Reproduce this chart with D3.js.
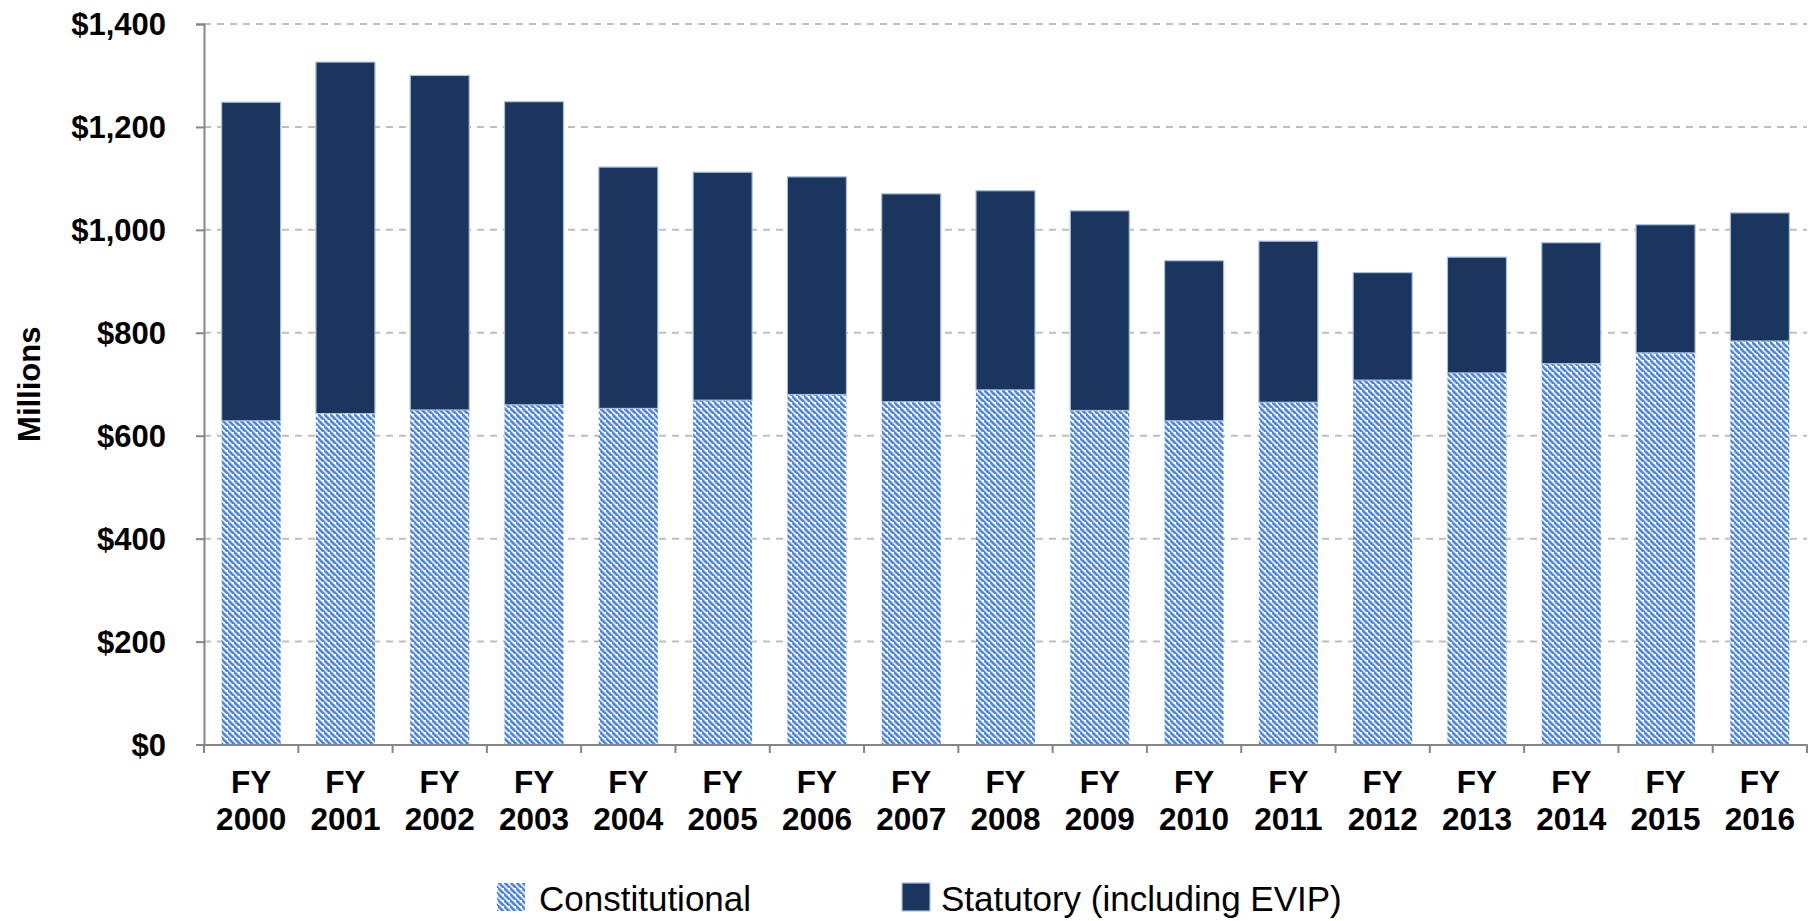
<!DOCTYPE html>
<html>
<head>
<meta charset="utf-8">
<script src="https://cdn.jsdelivr.net/npm/d3@7"></script>
<style>
  html, body { margin: 0; padding: 0; background: #ffffff; }
  svg { display: block; font-family: "Liberation Sans", Arial, sans-serif; }
</style>
</head>
<body>
<svg id="chart" width="1810" height="921"></svg>
<script>
const categories = ["2000","2001","2002","2003","2004","2005","2006","2007","2008","2009","2010","2011","2012","2013","2014","2015","2016"];
const totals = [1248, 1326, 1300, 1249, 1122, 1112, 1103, 1070, 1076, 1037, 940, 978, 917, 947, 975, 1010, 1033];
const constitutional = [629, 643, 650, 660, 653, 669, 680, 666, 689, 649, 629, 665, 708, 722, 740, 761, 784];
const statutory = totals.map((t, i) => t - constitutional[i]);
const yTicks = [0, 200, 400, 600, 800, 1000, 1200, 1400];
const seriesNames = ["Constitutional", "Statutory (including EVIP)"];

(function () {
const svg = d3.select("#chart");
const pLeft = 204, pRight = 1807, pTop = 24, pBottom = 744.5;

const x = d3.scaleBand().domain(categories).range([pLeft, pRight]).paddingInner(0.374).paddingOuter(0.187);
const y = d3.scaleLinear().domain([0, 1400]).range([pBottom, pTop]);

// hatch pattern
const defs = svg.append("defs");
const pat = defs.append("pattern")
  .attr("id", "hatch").attr("patternUnits", "userSpaceOnUse")
  .attr("width", 6).attr("height", 6);
pat.append("rect").attr("width", 6).attr("height", 6).attr("fill", "#ffffff");
pat.append("path")
  .attr("d", "M-1,-1 L7,7 M-4,2 L2,8 M4,-4 L10,2")
  .attr("stroke", "#5289d6").attr("stroke-width", 2.7);

// gridlines
svg.append("g").selectAll("line")
  .data(yTicks.filter(v => v > 0))
  .join("line")
  .attr("x1", pLeft).attr("x2", pRight)
  .attr("y1", d => y(d)).attr("y2", d => y(d))
  .attr("stroke", "#bfbfbf").attr("stroke-width", 2)
  .attr("stroke-dasharray", "7,6");

// stacked bars
const stackData = categories.map((c, i) => ({ cat: c, con: constitutional[i], stat: statutory[i] }));
const stack = d3.stack().keys(["con", "stat"])(stackData);
const fills = ["url(#hatch)", "#1a365e"];
const strokes = ["none", "#a9bfe2"];

svg.append("g").selectAll("g")
  .data(stack).join("g")
  .attr("fill", (d, i) => fills[i])
  .attr("stroke", (d, i) => strokes[i])
  .attr("stroke-width", 1.2)
  .selectAll("rect")
  .data(d => d).join("rect")
  .attr("x", d => x(d.data.cat))
  .attr("width", x.bandwidth())
  .attr("y", d => y(d[1]))
  .attr("height", d => y(d[0]) - y(d[1]));

// y axis
const yAxis = svg.append("g")
  .attr("transform", `translate(${pLeft},0)`)
  .call(d3.axisLeft(y).tickValues(yTicks).tickSize(8).tickPadding(30)
    .tickFormat(d => "$" + d3.format(",")(d)));
yAxis.select(".domain").attr("stroke", "#868686").attr("stroke-width", 2);
yAxis.selectAll(".tick line").attr("stroke", "#868686").attr("stroke-width", 2);
yAxis.selectAll(".tick text")
  .attr("fill", "#000").attr("font-size", 31).attr("font-weight", 700)
  .attr("font-family", "Liberation Sans, Arial, sans-serif")
  .attr("dy", "0.34em");

// x axis
const xAxis = svg.append("g")
  .attr("transform", `translate(0,${pBottom})`)
  .call(d3.axisBottom(x).tickSize(0).tickPadding(0));
xAxis.select(".domain").attr("stroke", "#868686").attr("stroke-width", 2);

// boundary tick marks between categories
const step = x.step();
const boundaries = d3.range(categories.length + 1).map(i => pLeft + i * step);
svg.append("g").selectAll("line")
  .data(boundaries).join("line")
  .attr("x1", d => d).attr("x2", d => d)
  .attr("y1", pBottom).attr("y2", pBottom + 8.5)
  .attr("stroke", "#868686").attr("stroke-width", 2);

// x labels
xAxis.selectAll(".tick text")
  .attr("fill", "#000").attr("font-size", 31.5).attr("font-weight", 700)
  .attr("font-family", "Liberation Sans, Arial, sans-serif")
  .attr("text-anchor", "middle")
  .attr("dy", null).attr("y", 0)
  .each(function (d) {
    const t = d3.select(this);
    t.text(null);
    t.append("tspan").attr("x", 0).attr("y", 48.5).text("FY");
    t.append("tspan").attr("x", 0).attr("y", 85.5).text(d);
  });

// y axis title
svg.append("text")
  .attr("transform", `translate(40,${(pTop + pBottom) / 2}) rotate(-90)`)
  .attr("text-anchor", "middle")
  .attr("font-size", 31).attr("font-weight", 700).attr("fill", "#000")
  .text("Millions");

// legend
const legendItems = [
  { name: seriesNames[0], fill: "url(#hatch)", stroke: "none", bx: 497, tx: 539 },
  { name: seriesNames[1], fill: "#1a365e", stroke: "#a9bfe2", bx: 902, tx: 941 }
];
const lg = svg.append("g");
legendItems.forEach(it => {
  lg.append("rect").attr("x", it.bx).attr("y", 883).attr("width", 28).attr("height", 28)
    .attr("fill", it.fill).attr("stroke", it.stroke).attr("stroke-width", 1.2);
  lg.append("text").attr("x", it.tx).attr("y", 911)
    .attr("font-size", 35).attr("fill", "#000").text(it.name);
});
})();
</script>
</body>
</html>
